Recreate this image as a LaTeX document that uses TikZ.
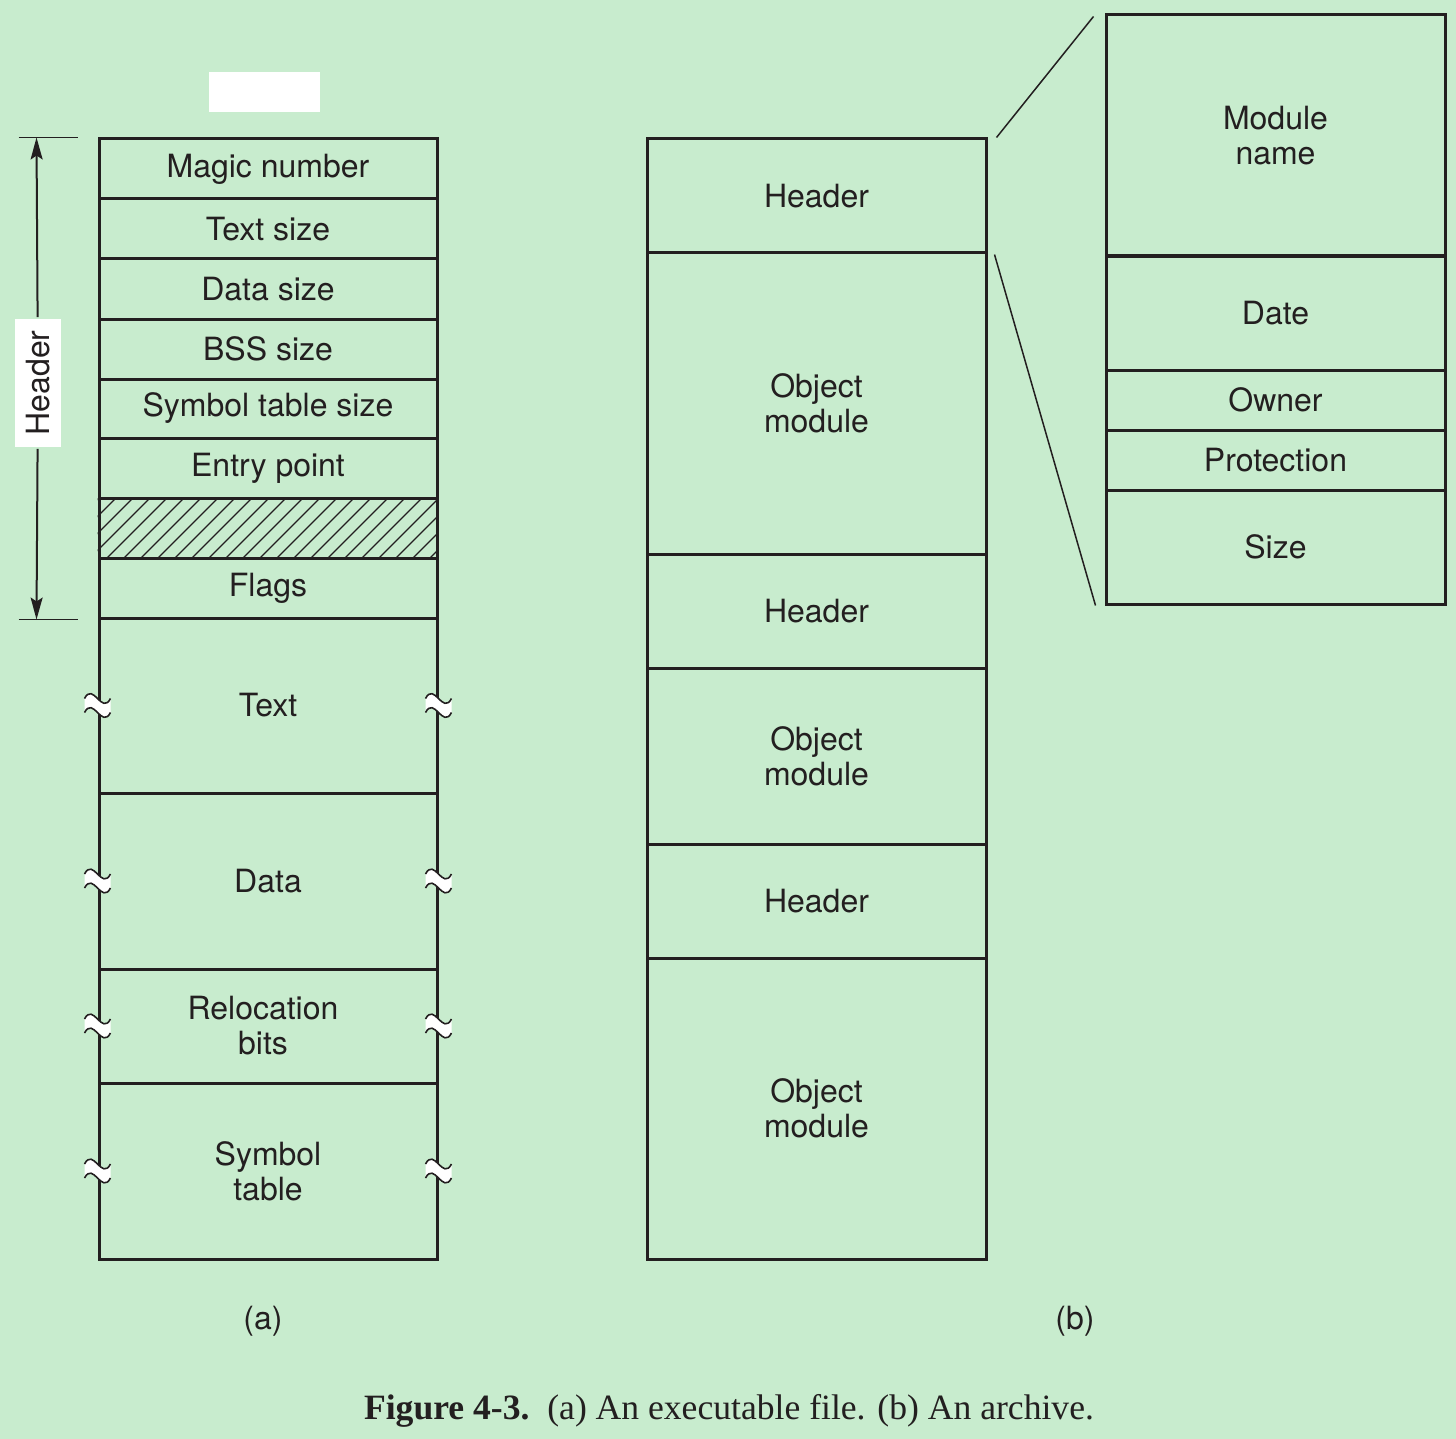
\documentclass[tikz,border=0pt]{standalone}
\usepackage{fontspec}
\setmainfont{TeX Gyre Heros}
\newfontfamily\capfont{Liberation Serif}
\usetikzlibrary{arrows.meta}
\definecolor{paper}{RGB}{200,236,206}
\definecolor{ink}{RGB}{35,31,32}
\tikzset{
every picture/.style={
line width=1.5pt
}}

\begin{document}
\begin{tikzpicture}[x=0.5pt, y=-0.5pt, ink,
cell/.style = {rectangle, draw=ink, line width=1.5pt, minimum width=169pt, inner sep=0pt, align=center, text=ink, font=\fontsize{16}{17.5}\selectfont},
wcell/.style = {cell, minimum width=169.5pt},
thinline/.style = {draw=ink, line width=0.75pt},
hatchline/.style = {draw=ink, line width=0.6pt},
dimline/.style = {draw=ink, line width=1pt, -{Stealth[length=11pt, width=6pt, inset=2pt]}},
hdrlab/.style = {fill=white, rotate=90, inner xsep=6pt, inner ysep=3pt, minimum height=23pt, text=ink, font=\fontsize{16}{17.5}\selectfont},
lab/.style = {text=ink, font=\fontsize{16}{17.5}\selectfont},
brk/.pic = {
 \fill[white] (-13,-7) .. controls (-4,-24) and (4,10) .. (13,-7) -- (13,7) .. controls (4,24) and (-4,-10) .. (-13,7) -- cycle;
 \draw[line width=0.8pt] (-13,-7) .. controls (-4,-24) and (4,10) .. (13,-7);
 \draw[line width=0.8pt] (-13,7) .. controls (-4,-10) and (4,24) .. (13,7);
}]

\fill[paper] (0,0) rectangle (1456,1439);
\useasboundingbox (0,0) rectangle (1456,1439);

% (a) executable file
\node[fill=white, minimum width=55.5pt, minimum height=20pt, inner sep=0pt] (blank) at (264.5,92) {};

\node[cell, minimum height=30pt] (mag) at (268,169) {Magic number};
\node[cell, minimum height=30pt] (tsz) at (268,229) {Text size};
\node[cell, minimum height=30pt] (dsz) at (268,289) {Data size};
\node[cell, minimum height=30pt] (bsz) at (268,349) {BSS size};
\node[cell, minimum height=29.5pt] (ssz) at (268,408.5) {Symbol table size};
\node[cell, minimum height=30pt] (ent) at (268,468) {Entry point};
\node[cell, minimum height=30pt] (pad) at (268,528) {};
\node[cell, minimum height=30pt] (flg) at (268,588) {Flags};
\node[cell, minimum height=87.5pt] (txt) at (268,705.5) {Text};
\node[cell, minimum height=88pt] (dat) at (268,881) {Data};
\node[cell, minimum height=57pt] (rel) at (268,1026) {\hspace*{-5pt}Relocation\\\hspace*{-5pt}bits};
\node[cell, minimum height=88pt] (sym) at (268,1171) {Symbol\\table};

\begin{scope}
\clip (pad.south west) rectangle (pad.north east);
\foreach \k in {0,...,23}
  \draw[hatchline] ({39+17*\k},558) -- ({99+17*\k},498);
\end{scope}

\pic at (txt.west) {brk};
\pic at (txt.east) {brk};
\pic at (dat.west) {brk};
\pic at (dat.east) {brk};
\pic at (rel.west) {brk};
\pic at (rel.east) {brk};
\pic at (sym.west) {brk};
\pic at (sym.east) {brk};

% header dimension
\draw[thinline] ([xshift=-39.5pt]mag.north west) -- ([xshift=-10pt]mag.north west);
\draw[thinline] ([xshift=-39.5pt]flg.south west) -- ([xshift=-10pt]flg.south west);
\coordinate (dtop) at ([xshift=-30.5pt]mag.north west);
\coordinate (dbot) at ([xshift=-30.5pt]flg.south west);
\node[hdrlab] (hlab) at (38,383) {Header};
\draw[dimline] (hlab) -- (dtop);
\draw[dimline] (hlab) -- (dbot);

% (b) archive
\node[wcell, minimum height=57pt] (hdra) at (816.5,196) {Header};
\node[wcell, minimum height=150.5pt] (obja) at (816.5,403.5) {Object\\module};
\node[wcell, minimum height=57pt] (hdrb) at (816.5,611) {Header};
\node[wcell, minimum height=88pt] (objb) at (816.5,756) {Object\\module};
\node[wcell, minimum height=57pt] (hdrc) at (816.5,901) {Header};
\node[wcell, minimum height=150.5pt] (objc) at (816.5,1108.5) {Object\\module};

% header fields
\node[wcell, minimum height=121pt] (modn) at (1275.5,136) {Module\\name};
\node[wcell, minimum height=57pt] (date) at (1275.5,313) {Date};
\node[wcell, minimum height=30pt] (own) at (1275.5,400) {Owner};
\node[wcell, minimum height=30pt] (prot) at (1275.5,460) {Protection};
\node[wcell, minimum height=57pt] (size) at (1275.5,547) {Size};

\draw[thinline] ([xshift=4.5pt]hdra.north east) -- ([xshift=-5.5pt,yshift=-1.5pt]modn.north west);
\draw[thinline] ([xshift=3.5pt]hdra.south east) -- ([xshift=-4.5pt]size.south west);

\node[lab] (la) at (263,1321) {(a)};
\node[lab] (lb) at (1075,1321) {(b)};

\node[text=ink, font=\capfont\fontsize{17.8}{20}\selectfont] (cap) at (729,1411) {\textbf{Figure 4-3.}\ \ (a) An executable file. (b) An archive.};
\end{tikzpicture}
\end{document}
